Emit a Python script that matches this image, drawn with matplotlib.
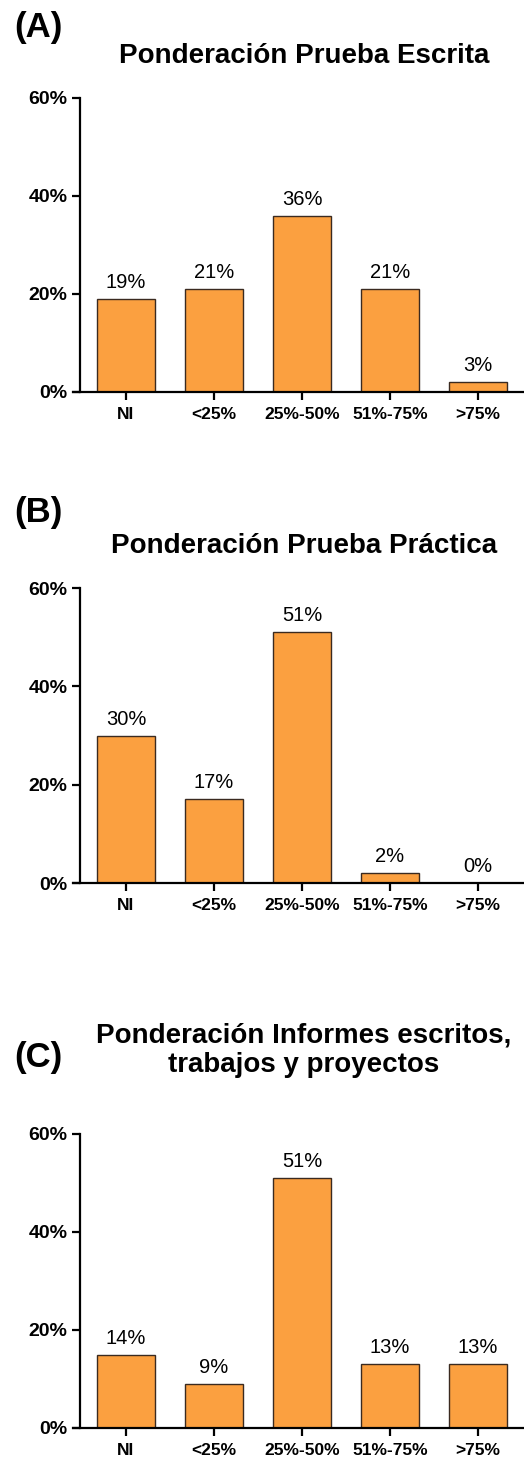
import numpy as np
import matplotlib.pyplot as plt

plt.rcParams['font.family'] = ['Liberation Sans', 'DejaVu Sans']

categories = ["NI", "<25%", "25%-50%", "51%-75%", ">75%"]
y_ticks = [0, 20, 40, 60]
y_tick_labels = ["0%", "20%", "40%", "60%"]

escrita_vals = [19, 21, 36, 21, 2]
escrita_labels = ["19%", "21%", "36%", "21%", "3%"]

practica_vals = [30, 17, 51, 2, 0]
practica_labels = ["30%", "17%", "51%", "2%", "0%"]

informes_vals = [15, 9, 51, 13, 13]
informes_labels = ["14%", "9%", "51%", "13%", "13%"]

panels = [
    ("(A)", "Ponderación Prueba Escrita", escrita_vals, escrita_labels),
    ("(B)", "Ponderación Prueba Práctica", practica_vals, practica_labels),
    ("(C)", "Ponderación Informes escritos,\ntrabajos y proyectos", informes_vals, informes_labels),
]

W, H = 524, 1459
bar_color = "#FBA040"
edge_color = "#3a2a20"

# pixel positions of the 0% and 60% lines for each panel
zero_px = [392, 883, 1428]
top_px = [98, 588, 1134]
title_px = [56, 546, 1050]
letter_px = [27, 513, 1058]

fig = plt.figure(figsize=(W / 100, H / 100), dpi=100)

x = np.arange(len(categories))
left_px = 73
for i, (letter, title, vals, labels) in enumerate(panels):
    bottom = 1 - zero_px[i] / H
    height = (zero_px[i] - top_px[i]) / H
    ax = fig.add_axes([left_px / W, bottom, (W - left_px) / W, height])
    # spine position first: moving it resets the tick labels
    ax.spines["top"].set_visible(False)
    ax.spines["right"].set_visible(False)
    ax.spines["left"].set_position(("data", -0.523))
    ax.spines["left"].set_bounds(0, 60)
    for s in ("left", "bottom"):
        ax.spines[s].set_linewidth(1.6)

    ax.bar(x, vals, width=0.66, color=bar_color, edgecolor=edge_color, linewidth=1.0, zorder=2)
    for xi, v, lab in zip(x, vals, labels):
        ax.annotate(lab, (xi, v), xytext=(0, 5), textcoords="offset points",
                    ha="center", va="bottom", fontsize=14.5)
    ax.set_xlim(-0.602, 4.523)
    ax.set_ylim(0, 60)
    ax.set_yticks(y_ticks, labels=y_tick_labels, fontsize=14, fontweight="bold")
    ax.set_xticks(x, labels=categories, fontsize=12.5, fontweight="bold")
    ax.tick_params(axis="both", direction="out", length=6, width=1.6, pad=3)
    ax.tick_params(axis="x", pad=5)

    fig.text(38 / W, 1 - letter_px[i] / H, letter, fontsize=25, fontweight="bold",
             ha="center", va="center")
    fig.text(304 / W, 1 - title_px[i] / H, title, fontsize=20, fontweight="bold",
             ha="center", va="center", linespacing=1.15)

fig.savefig("out.png", dpi=100)
